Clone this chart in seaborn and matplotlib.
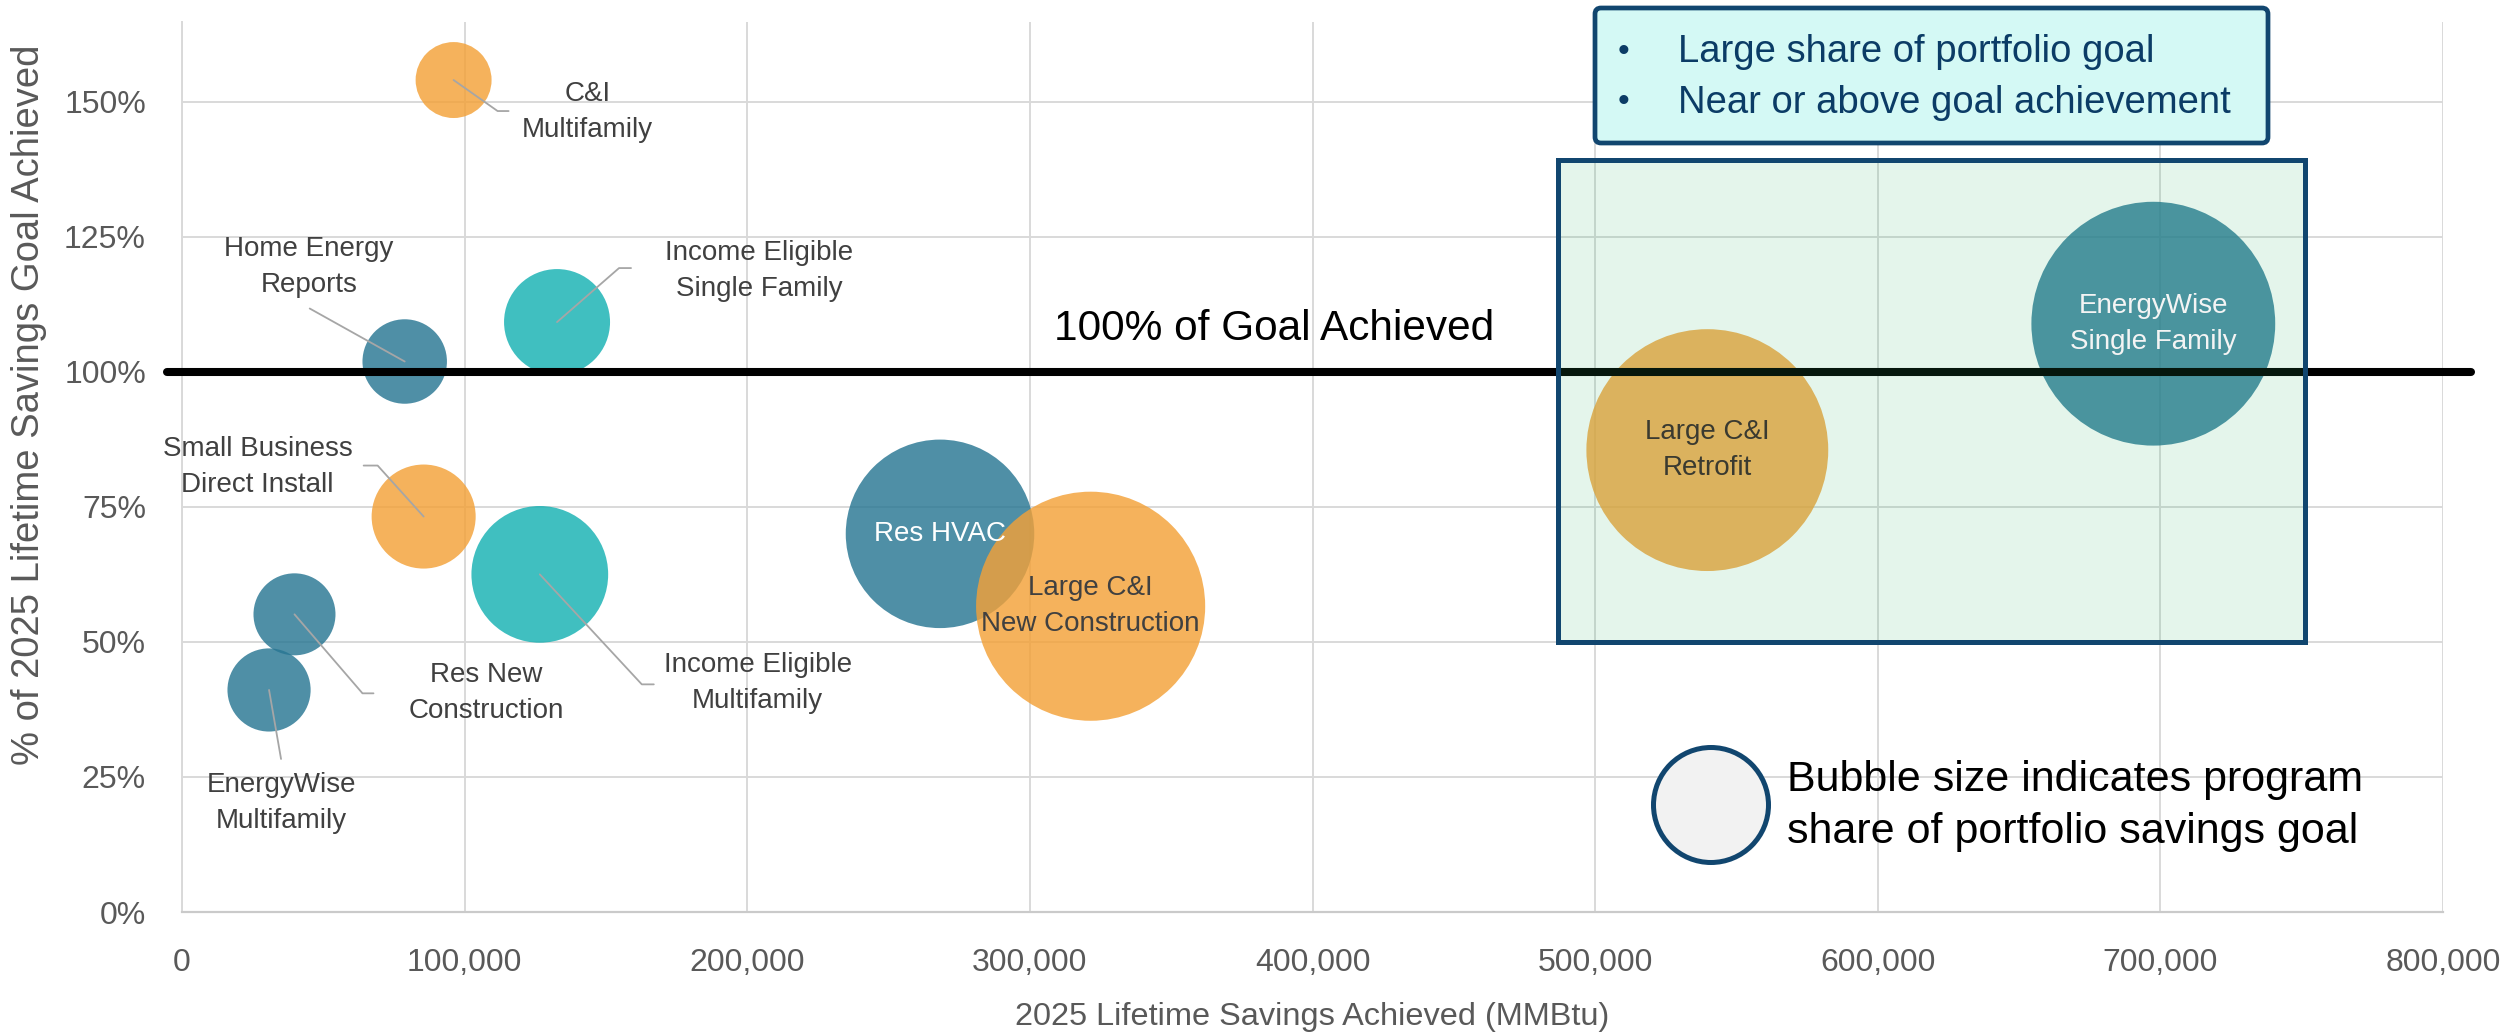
import matplotlib
matplotlib.use("Agg")
import matplotlib.pyplot as plt
import matplotlib.patches as mpatches
import matplotlib.transforms as mtransforms
from matplotlib.lines import Line2D
from matplotlib.ticker import FuncFormatter
import pandas as pd
import seaborn as sns

# ---- data -------------------------------------------------------------
programs = [
    "Home Energy\nReports", "Res New\nConstruction", "EnergyWise\nMultifamily",
    "Res HVAC", "EnergyWise\nSingle Family",
    "Income Eligible\nSingle Family", "Income Eligible\nMultifamily",
    "C&I\nMultifamily", "Small Business\nDirect Install",
    "Large C&I\nNew Construction", "Large C&I\nRetrofit",
]
sectors = ["Residential"] * 5 + ["Income Eligible"] * 2 + ["C&I"] * 4
savings_mmbtu = [78800, 39800, 30800, 268200, 697500,
                 132700, 126600,
                 96100, 85500, 321500, 539700]
pct_of_goal = [101.9, 55.1, 41.1, 70.0, 108.9,
               109.2, 62.5,
               154.0, 73.2, 56.6, 85.5]
share_of_portfolio_goal = [2.61, 2.46, 2.53, 13.0, 21.75,
                           4.11, 6.84,
                           2.11, 3.96, 19.2, 21.4]

x_ticks = [0, 100000, 200000, 300000, 400000, 500000, 600000, 700000, 800000]
y_ticks = [0, 25, 50, 75, 100, 125, 150]

sector_colors = {"Residential": "#287693",
                 "Income Eligible": "#16B1B3",
                 "C&I": "#F3A138"}

# label placement: leader path and text position as pixel offsets from bubble centre
label_layout = {
    "Home Energy\nReports": dict(path=[(0, 0), (-95, 53)], text=(-96, 95)),
    "Res New\nConstruction": dict(path=[(0, 0), (68, -79), (79, -79)], text=(192, -79)),
    "EnergyWise\nMultifamily": dict(path=[(0, 0), (12, -69)], text=(12, -113)),
    "Income Eligible\nSingle Family": dict(path=[(0, 0), (62, 54), (74, 54)], text=(202, 51)),
    "Income Eligible\nMultifamily": dict(path=[(0, 0), (102, -110), (114, -110)], text=(218, -109)),
    "C&I\nMultifamily": dict(path=[(0, 0), (44, -31), (55, -31)], text=(134, -32)),
    "Small Business\nDirect Install": dict(path=[(0, 0), (-46, 51), (-60, 51)], text=(-166, 50)),
    "Res HVAC": dict(inside="white"),
    "EnergyWise\nSingle Family": dict(inside="#F4F4F4"),
    "Large C&I\nNew Construction": dict(inside="#404040"),
    "Large C&I\nRetrofit": dict(inside="#3A3A30"),
}

df = pd.DataFrame({
    "program": programs,
    "sector": sectors,
    "savings": savings_mmbtu,
    "pct": pct_of_goal,
    "share": share_of_portfolio_goal,
})

# ---- figure -----------------------------------------------------------
W, H, DPI = 2517, 1032, 100
sns.set_style("white")
plt.rcParams["font.family"] = ["Liberation Sans", "DejaVu Sans"]

fig = plt.figure(figsize=(W / DPI, H / DPI), dpi=DPI)
fig.patch.set_facecolor("white")


def fx(x):
    return x / W


def fy(y):
    return 1 - y / H


ax_left, ax_right, ax_top, ax_bottom = 182, 2443, 21.7, 912
ax_w, ax_h = ax_right - ax_left, ax_bottom - ax_top
ax = fig.add_axes([fx(ax_left), fy(ax_bottom), ax_w / W, ax_h / H])

sns.scatterplot(data=df, x="savings", y="pct", hue="sector", palette=sector_colors,
                size="share", sizes=(0, 141700), size_norm=(0, 100),
                alpha=0.82, linewidth=0, legend=False, ax=ax, zorder=3)

ax.set_xlim(0, 800000)
ax.set_ylim(0, 164.8)
ax.set_xticks(x_ticks)
ax.set_yticks(y_ticks)
ax.xaxis.set_major_formatter(FuncFormatter(lambda v, p: f"{int(v):,}"))
ax.yaxis.set_major_formatter(FuncFormatter(lambda v, p: f"{int(v)}%"))
ax.tick_params(axis="both", length=0, labelsize=23, colors="#595959")
ax.tick_params(axis="x", pad=26)
ax.tick_params(axis="y", pad=26)
ax.grid(True, color="#D9D9D9", lw=1.4, zorder=0)
ax.set_axisbelow(True)
for side in ("top", "right"):
    ax.spines[side].set_visible(False)
ax.spines["left"].set_color("#D9D9D9")
ax.spines["left"].set_linewidth(1.4)
ax.spines["bottom"].set_color("#CACACA")
ax.spines["bottom"].set_linewidth(1.6)

ax.set_xlabel("2025 Lifetime Savings Achieved (MMBtu)", fontsize=23.4, color="#595959")
ax.xaxis.set_label_coords(0.5, (ax_bottom - 1002) / ax_h)
ax.set_ylabel("% of 2025 Lifetime Savings Goal Achieved", fontsize=27.5, color="#595959")
ax.yaxis.set_label_coords((47 - ax_left) / ax_w, (ax_bottom - 405) / ax_h)

# 100 % goal line, running slightly past both axis ends
ax.axhline(100, xmin=(167 - ax_left) / ax_w, xmax=(2471 - ax_left) / ax_w,
           color="black", lw=5.8, zorder=4, clip_on=False)
fig.text(fx(1274), fy(329), "100% of Goal Achieved", fontsize=30.5,
         color="black", ha="center", va="center")

# highlight region for large programs near or above goal
hl = mpatches.Rectangle((487000, 50.0), 751000 - 487000, 139.2 - 50.0,
                        facecolor=(47 / 255, 185 / 255, 108 / 255, 0.13),
                        edgecolor="#11466F", lw=3.6, zorder=5, clip_on=False)
ax.add_patch(hl)

# ---- bubble labels ----------------------------------------------------
to_display = ax.transData
ident = mtransforms.IdentityTransform()
for _, row in df.iterrows():
    lay = label_layout[row["program"]]
    cx, cy = to_display.transform((row["savings"], row["pct"]))
    if "inside" in lay:
        ax.text(row["savings"], row["pct"], row["program"], ha="center", va="center",
                fontsize=20, color=lay["inside"], zorder=6, linespacing=1.5)
        continue
    xs = [cx + dx for dx, dy in lay["path"]]
    ys = [cy + dy for dx, dy in lay["path"]]
    fig.add_artist(Line2D(xs, ys, color="#A6A6A6", lw=1.3, transform=ident, zorder=6))
    tx, ty = cx + lay["text"][0], cy + lay["text"][1]
    fig.text(tx / W, ty / H, row["program"], ha="center", va="center",
             fontsize=20, color="#404040", linespacing=1.5, zorder=6)

# ---- call-out box ------------------------------------------------------
box = mpatches.FancyBboxPatch((1595, H - 143), 673, 135,
                              boxstyle="round,pad=0,rounding_size=6",
                              facecolor="#D4F9F5", edgecolor="#11466F", lw=3.4,
                              transform=ident, zorder=7)
fig.add_artist(box)
for yy, line in [(52, "Large share of portfolio goal"), (103, "Near or above goal achievement")]:
    fig.text(fx(1623), fy(yy), "\u2022", fontsize=24, color="#0B3C66",
             ha="center", va="center", zorder=8)
    fig.text(fx(1678), fy(yy), line, fontsize=27.5, color="#0B3C66",
             ha="left", va="center", zorder=8)

# ---- bubble size key ---------------------------------------------------
key = mpatches.Ellipse((fx(1711), fy(805)), 115 / W, 115 / H,
                       facecolor="#F2F2F2", edgecolor="#11466F", lw=3.6,
                       transform=fig.transFigure, zorder=7)
fig.add_artist(key)
fig.text(fx(1787), fy(806), "Bubble size indicates program\nshare of portfolio savings goal",
         fontsize=31, color="black", ha="left", va="center", linespacing=1.4, zorder=8)

fig.savefig("out.png", dpi=DPI, facecolor="white")
